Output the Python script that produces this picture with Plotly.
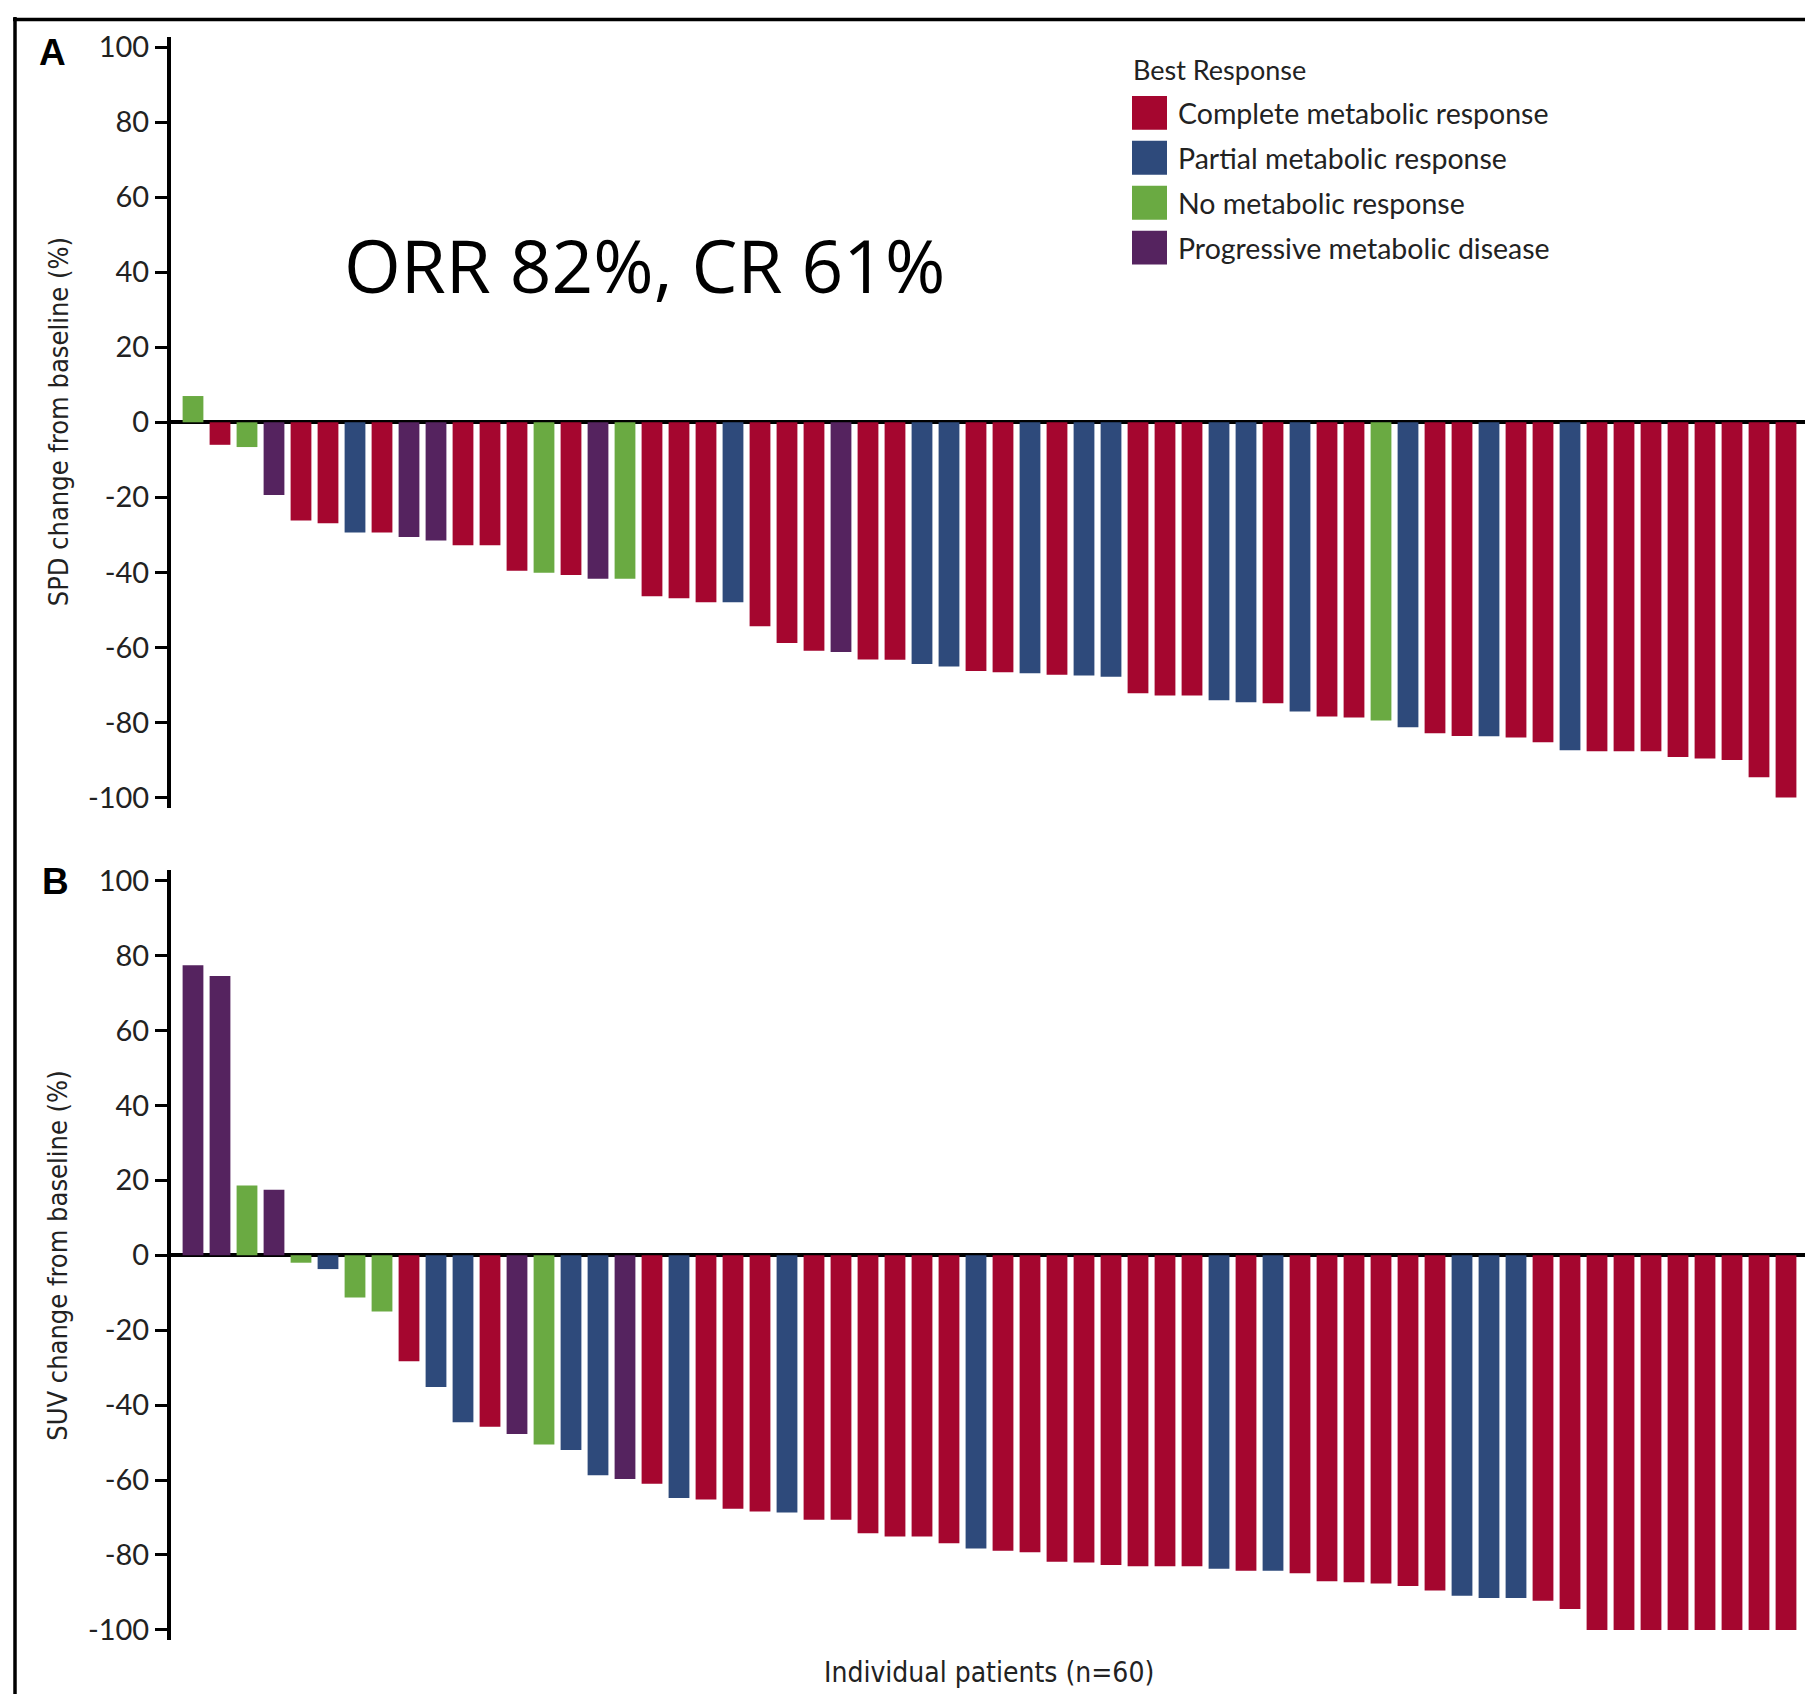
import plotly.graph_objects as go

# ---------------- data ----------------
response_names = [
    "Complete metabolic response",
    "Partial metabolic response",
    "No metabolic response",
    "Progressive metabolic disease",
]
response_codes = ["C", "P", "N", "D"]
response_colors = ["#A5062F", "#2E4A7B", "#6AAA42", "#55235F"]

# Panel A: SPD change from baseline (%)
spd_change = [7, -6, -6.6, -19.4, -26.2, -26.9, -29.4, -29.4, -30.6, -31.5,
              -32.8, -32.8, -39.6, -40.1, -40.7, -41.7, -41.7, -46.4, -46.9, -48.0,
              -48.0, -54.4, -58.8, -60.9, -61.2, -63.2, -63.3, -64.4, -65.1, -66.3,
              -66.6, -66.9, -67.3, -67.5, -67.8, -72.2, -72.8, -72.8, -74.1, -74.6,
              -74.9, -77.1, -78.4, -78.7, -79.5, -81.3, -82.9, -83.6, -83.7, -84.0,
              -85.3, -87.4, -87.7, -87.7, -87.7, -89.2, -89.6, -90.0, -94.6, -100]
spd_response = ["N", "C", "N", "D", "C", "C", "P", "C", "D", "D",
                "C", "C", "C", "N", "C", "D", "N", "C", "C", "C",
                "P", "C", "C", "C", "D", "C", "C", "P", "P", "C",
                "C", "P", "C", "P", "P", "C", "C", "C", "P", "P",
                "C", "P", "C", "C", "N", "P", "C", "C", "P", "C",
                "C", "P", "C", "C", "C", "C", "C", "C", "C", "C"]

# Panel B: SUV change from baseline (%)
suv_change = [77.4, 74.5, 18.6, 17.5, -2.0, -3.7, -11.3, -15.0, -28.3, -35.2,
              -44.6, -45.8, -47.7, -50.5, -52.0, -58.7, -59.7, -61.0, -64.8, -65.2,
              -67.7, -68.4, -68.7, -70.6, -70.6, -74.2, -75.1, -75.1, -76.9, -78.3,
              -78.9, -79.3, -81.8, -82.0, -82.7, -83.0, -83.0, -83.0, -83.7, -84.2,
              -84.2, -84.9, -87.0, -87.3, -87.6, -88.3, -89.5, -90.9, -91.5, -91.5,
              -92.2, -94.4, -100, -100, -100, -100, -100, -100, -100, -100]
suv_response = ["D", "D", "N", "D", "N", "P", "N", "N", "C", "P",
                "P", "C", "D", "N", "P", "P", "D", "C", "P", "C",
                "C", "C", "P", "C", "C", "C", "C", "C", "C", "P",
                "C", "C", "C", "C", "C", "C", "C", "C", "P", "C",
                "P", "C", "C", "C", "C", "C", "C", "P", "P", "P",
                "C", "C", "C", "C", "C", "C", "C", "C", "C", "C"]

tick_vals = [100, 80, 60, 40, 20, 0, -20, -40, -60, -80, -100]
tick_labels = ["100", "80", "60", "40", "20", "0", "-20", "-40", "-60", "-80", "-100"]

title_a = "SPD change from baseline (%)"
title_b = "SUV change from baseline (%)"
x_title = "Individual patients (n=60)"
summary_text = "ORR 82%, CR 61%"
legend_title = "Best Response"

# ---------------- layout helpers ----------------
OFF = 8
W, H = 1813 - 2 * OFF, 1708 - 2 * OFF
SY, BY = 0.993, 6.0   # empirical vertical correction of the rendered page


def fx(px):
    return min(1.0, max(0.0, (px - OFF) / W))


def fy(py):
    page = (py - BY) / SY
    return min(1.0, max(0.0, 1 - (page - OFF) / H))


TICK_FONT = dict(family="Lato, 'Open Sans', sans-serif", size=29, color="#222222")
NARROW = "'Liberation Sans Narrow', 'DejaVu Sans Condensed', 'Arial Narrow', Lato, sans-serif"

fig = go.Figure()

panels = [
    (spd_change, spd_response, "x", "y"),
    (suv_change, suv_response, "x2", "y2"),
]
for values, resp, xa, ya in panels:
    for code, name, color in zip(response_codes, response_names, response_colors):
        xs = [i for i, r in enumerate(resp) if r == code]
        ys = [values[i] for i in xs]
        fig.add_trace(go.Bar(
            x=xs, y=ys, name=name, width=0.77,
            marker=dict(color=color, line=dict(width=0)),
            xaxis=xa, yaxis=ya, showlegend=False,
        ))

X_LEFT, X_RIGHT = 171, 1805
x_dom = [fx(X_LEFT), fx(X_RIGHT)]
x_rng = [-(193 - X_LEFT) / 27.0, -(193 - X_LEFT) / 27.0 + (X_RIGHT - X_LEFT) / 27.0]
yaxis_common = dict(
    range=[-102.7, 102.7],
    tickmode="array", tickvals=tick_vals, ticktext=tick_labels,
    ticks="outside", ticklen=12, tickwidth=3, tickcolor="black",
    ticklabelstandoff=0,
    showline=True, linecolor="black", linewidth=4,
    zeroline=True, zerolinecolor="black", zerolinewidth=3.5,
    showgrid=False, tickfont=TICK_FONT, layer="above traces",
)
xaxis_common = dict(
    range=x_rng, showticklabels=False, ticks="", showline=False,
    showgrid=False, zeroline=False, domain=x_dom,
)

fig.update_layout(
    width=W, height=H,
    margin=dict(l=0, r=0, t=0, b=0),
    paper_bgcolor="white", plot_bgcolor="white",
    barmode="overlay",
    xaxis=dict(**xaxis_common, anchor="y"),
    xaxis2=dict(**xaxis_common, anchor="y2"),
    yaxis=dict(**yaxis_common, domain=[fy(806), fy(34)], anchor="x"),
    yaxis2=dict(**yaxis_common, domain=[fy(1640), fy(869)], anchor="x2"),
    font=dict(family="Lato, sans-serif", color="#222222"),
)

annotations = []
shapes = []

# axis titles
annotations.append(dict(text=title_a, x=fx(58), y=fy(420), xref="paper", yref="paper",
                        textangle=-90, showarrow=False, xanchor="center", yanchor="middle",
                        font=dict(family=NARROW, size=27, color="#222222")))
annotations.append(dict(text=title_b, x=fx(58), y=fy(1255), xref="paper", yref="paper",
                        textangle=-90, showarrow=False, xanchor="center", yanchor="middle",
                        font=dict(family=NARROW, size=27, color="#222222")))
annotations.append(dict(text=x_title, x=fx(989), y=fy(1673), xref="paper", yref="paper",
                        showarrow=False, xanchor="center", yanchor="middle",
                        font=dict(family=NARROW, size=28, color="#222222")))
# panel letters
annotations.append(dict(text="<b>A</b>", x=fx(52), y=fy(50), xref="paper", yref="paper",
                        showarrow=False, xanchor="center", yanchor="middle",
                        font=dict(family="Liberation Sans, Arial, sans-serif", size=37, color="black")))
annotations.append(dict(text="<b>B</b>", x=fx(55), y=fy(880), xref="paper", yref="paper",
                        showarrow=False, xanchor="center", yanchor="middle",
                        font=dict(family="Liberation Sans, Arial, sans-serif", size=37, color="black")))
# summary text
annotations.append(dict(text=summary_text, x=fx(644), y=fy(262), xref="paper", yref="paper",
                        showarrow=False, xanchor="center", yanchor="middle",
                        font=dict(family="'Open Sans', sans-serif", size=73, color="black")))

# manual legend
annotations.append(dict(text=legend_title, x=fx(1131), y=fy(67), xref="paper", yref="paper",
                        showarrow=False, xanchor="left", yanchor="middle",
                        font=dict(family="Lato, sans-serif", size=27, color="#222222")))
for k, (name, color) in enumerate(zip(response_names, response_colors)):
    top = 93 + 45 * k
    shapes.append(dict(type="rect", xref="paper", yref="paper",
                       x0=fx(1132), x1=fx(1167), y0=fy(top + 34), y1=fy(top),
                       fillcolor=color, line=dict(width=0)))
    annotations.append(dict(text=name, x=fx(1176), y=fy(top + 17), xref="paper", yref="paper",
                            showarrow=False, xanchor="left", yanchor="middle",
                            font=dict(family="Lato, sans-serif", size=28.5, color="#222222")))

# outer frame (top and left edges visible)
shapes.append(dict(type="line", xref="paper", yref="paper", x0=fx(13), x1=1, y0=0.9985, y1=0.9985,
                   line=dict(color="black", width=3.5)))
shapes.append(dict(type="line", xref="paper", yref="paper", x0=fx(15), x1=fx(15), y0=1, y1=0,
                   line=dict(color="black", width=3.5)))

fig.update_layout(annotations=annotations, shapes=shapes)

fig.write_html("out.html")
